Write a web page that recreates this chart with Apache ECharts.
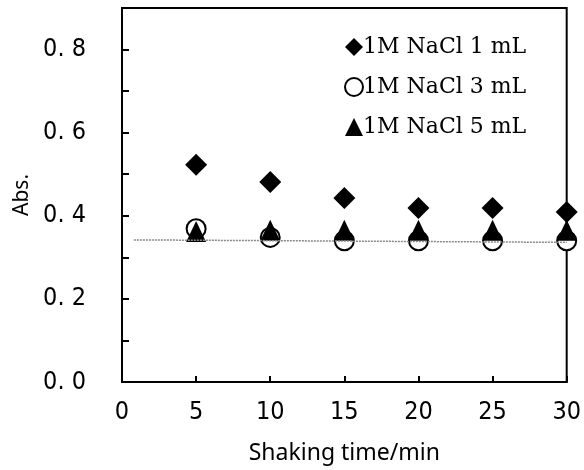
<!DOCTYPE html>
<html>
<head>
<meta charset="utf-8">
<script src="https://cdn.jsdelivr.net/npm/echarts@6/dist/echarts.min.js"></script>
<style>
  html, body { margin: 0; padding: 0; background: #fff; }
  #main { width: 584px; height: 470px; }
</style>
</head>
<body>
<div id="main"></div>
<script>
// shaking time (min)
var times = [5, 10, 15, 20, 25, 30];
// absorbance per NaCl volume
var nacl1 = [0.523, 0.481, 0.443, 0.419, 0.419, 0.409];
var nacl3 = [0.369, 0.348, 0.340, 0.340, 0.340, 0.340];
var nacl5 = [0.362, 0.365, 0.365, 0.365, 0.365, 0.365];
// dotted reference line ends
var refX = [0.8, 30];
var refY = [0.342, 0.336];
var names = ['1M NaCl 1 mL', '1M NaCl 3 mL', '1M NaCl 5 mL'];

function pairs(xs, ys) {
  return xs.map(function (x, i) { return [x, ys[i]]; });
}

var chart = echarts.init(document.getElementById('main'));
var labelFont = '"DejaVu Sans Condensed", "Liberation Sans Narrow", sans-serif';

chart.setOption({
  animation: false,
  grid: {
    left: 122, right: 16, top: 8, bottom: 86,
    show: true, borderColor: '#000', borderWidth: 2
  },
  legend: {
    orient: 'vertical',
    left: 339,
    top: 31,
    itemGap: 18,
    itemWidth: 18,
    itemHeight: 18,
    data: [
      { name: names[0], icon: 'diamond' },
      { name: names[1], icon: 'circle', itemStyle: { borderWidth: 2, borderColor: '#000', color: '#fff' } },
      { name: names[2], icon: 'triangle' }
    ],
    textStyle: { fontFamily: '"DejaVu Serif", serif', fontSize: 22, color: '#000', lineHeight: 22, padding: [0, 0, 0, -5] }
  },
  xAxis: {
    type: 'value',
    min: 0, max: 30, interval: 5,
    name: 'Shaking time/min',
    nameLocation: 'middle',
    nameGap: 60,
    nameTextStyle: { fontFamily: '"Noto Sans", sans-serif', fontSize: 23, color: '#000' },
    axisLine: { show: true, lineStyle: { color: '#000', width: 2 } },
    axisTick: { show: true, inside: true, length: 6, lineStyle: { color: '#000', width: 2 } },
    axisLabel: { fontFamily: labelFont, fontSize: 25, color: '#000', margin: 18 },
    splitLine: { show: false }
  },
  yAxis: {
    type: 'value',
    min: 0, max: 0.9, interval: 0.1,
    name: 'Abs.',
    nameLocation: 'middle',
    nameGap: 88,
    nameTextStyle: { fontFamily: '"Noto Sans", sans-serif', fontSize: 21, color: '#000' },
    axisLine: { show: true, lineStyle: { color: '#000', width: 2 } },
    axisTick: { show: true, inside: true, length: 7, lineStyle: { color: '#000', width: 2 } },
    axisLabel: {
      fontFamily: labelFont, fontSize: 25, color: '#000', margin: 36,
      formatter: function (v) {
        var k = Math.round(v * 10);
        if (k % 2 !== 0 || k > 8) return '';
        return (k / 10).toFixed(1).replace('.', '. ');
      }
    },
    splitLine: { show: false }
  },
  series: [
    {
      name: names[0], type: 'scatter', symbol: 'diamond', symbolSize: [22, 22],
      itemStyle: { color: '#000', opacity: 1 },
      data: pairs(times, nacl1), z: 2
    },
    {
      name: names[1], type: 'scatter', symbol: 'circle', symbolSize: 19,
      itemStyle: { color: '#fff', borderColor: '#000', borderWidth: 2, opacity: 1 },
      data: pairs(times, nacl3), z: 2
    },
    {
      name: names[2], type: 'scatter', symbol: 'triangle', symbolSize: [20, 21],
      itemStyle: { color: '#000', opacity: 1 },
      data: pairs(times, nacl5), z: 3
    },
    {
      type: 'line', data: pairs(refX, refY), symbol: 'none', silent: true,
      lineStyle: { color: '#888', width: 1.5, type: [2, 1] }, z: 4
    }
  ]
});
</script>
</body>
</html>
